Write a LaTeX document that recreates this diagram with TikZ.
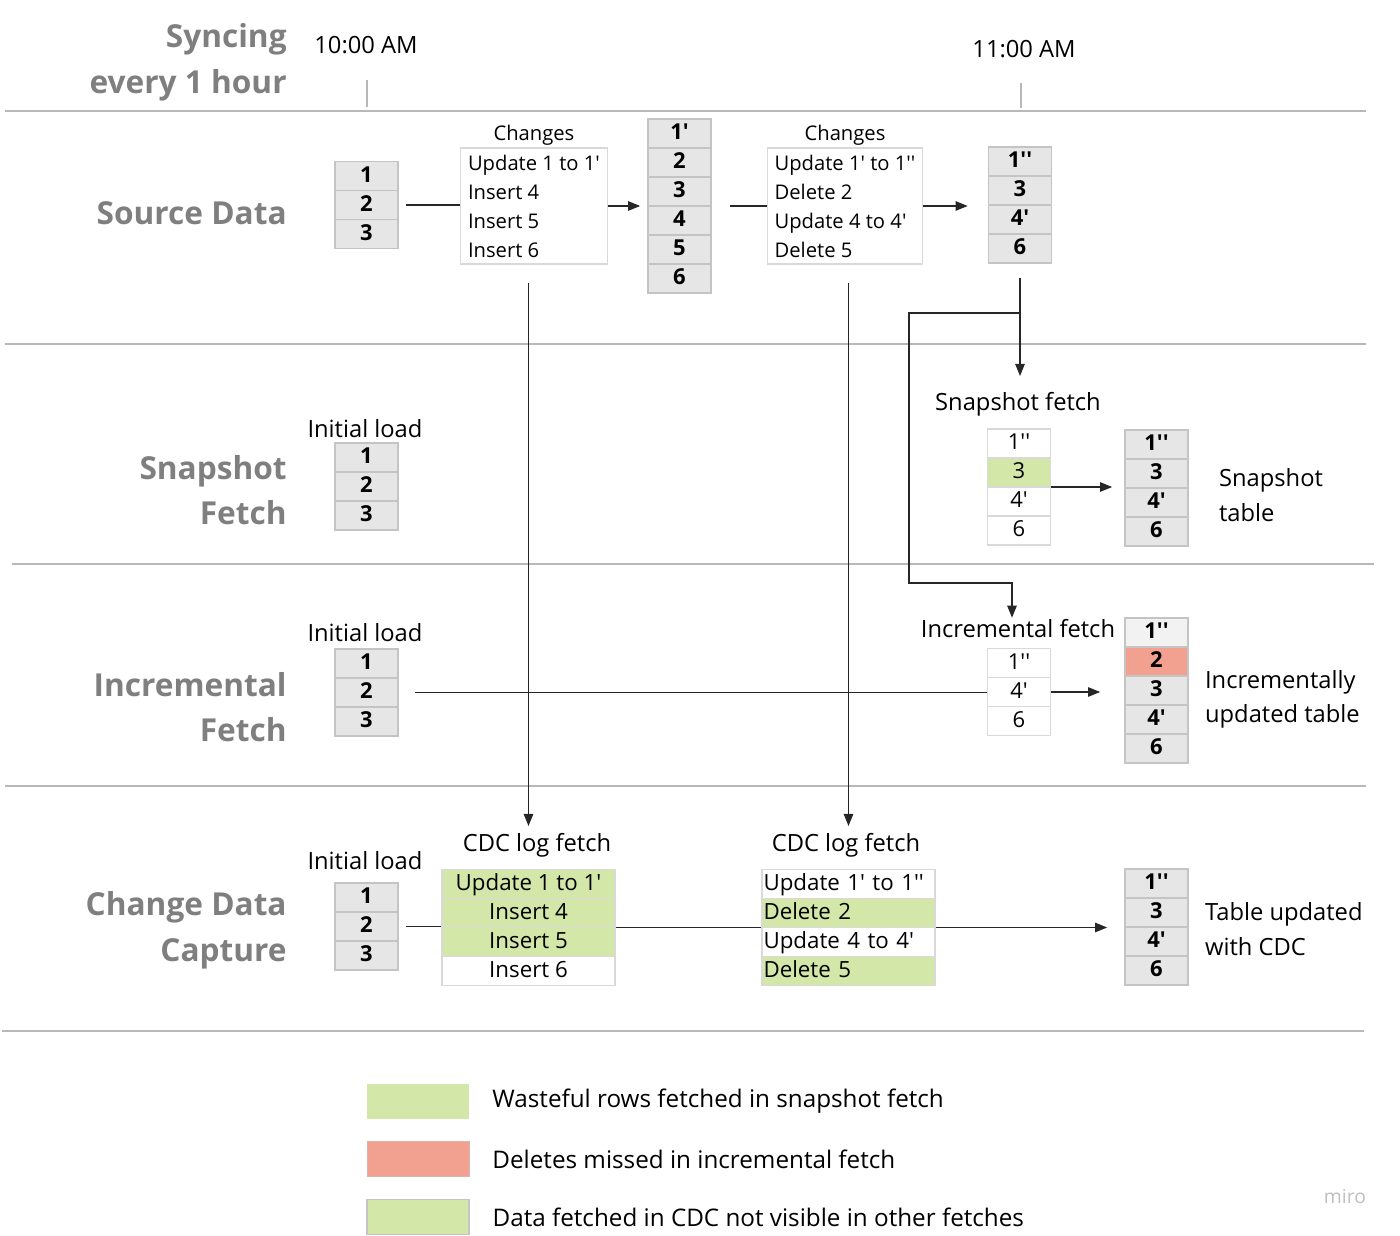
\documentclass[tikz,border=0pt]{standalone}
\usepackage{fontspec}
\setmainfont{Open Sans}[Ligatures=TeXOff]
\usepackage{tikz}
\usetikzlibrary{arrows.meta, positioning, matrix}

\definecolor{grn}{HTML}{D3E7A8}
\definecolor{redc}{HTML}{F2A191}
\definecolor{cellfill}{HTML}{E6E6E6}
\definecolor{cellline}{HTML}{C4C4C4}
\definecolor{wline}{HTML}{D9D9D9}
\definecolor{headgray}{HTML}{7F7F7F}
\definecolor{sepgray}{HTML}{B8B8B8}

\begin{document}
\begin{tikzpicture}[x=0.02cm, y=-0.02cm,
  head/.style={anchor=east, align=right, text=headgray, inner sep=0pt,
               font=\bfseries\fontsize{18}{26}\selectfont},
  lbl/.style={font=\fontsize{13.5}{19.5}\selectfont, inner sep=1pt},
  cell/.style={draw=cellline, fill=cellfill, line width=0.6pt, minimum width=1.26cm,
               minimum height=0.58cm, inner sep=0pt, text height=0.92em, text depth=0.2em,
               font=\bfseries\fontsize{12.5}{14}\selectfont},
  wcell/.style={fill=white, draw=wline, font=\fontsize{12.5}{14}\selectfont},
  tbl/.style={matrix of nodes, inner sep=0pt, row sep=-0.6pt, nodes={cell}},
  wtbl/.style={tbl, nodes={wcell}},
  logbox/.style={matrix of nodes, inner sep=0pt, row sep=-0.6pt,
               nodes={draw=wline, fill=white, line width=0.6pt, minimum width=3.46cm,
                      minimum height=0.58cm, inner sep=0pt, text height=0.92em, text depth=0.2em,
                      font=\fontsize{12.7}{14}\selectfont}},
  chg/.style={draw=wline, line width=0.6pt, align=left, anchor=west, inner xsep=0.15cm,
              minimum height=2.32cm, font=\fontsize{11.5}{16.5}\selectfont},
  lgbox/.style={minimum width=2.04cm, minimum height=0.7cm, inner sep=0pt},
  lgtext/.style={lbl, font=\fontsize{13.8}{16}\selectfont},
  sep/.style={draw=sepgray, line width=1pt},
  con/.style={draw=black!85, line width=0.6pt},
  arr/.style={con, -{Triangle[length=0.24cm, width=0.19cm]}}]
  \useasboundingbox (0,0) rectangle (1400,1236);

  % header and row separators
  \node[head] (sync) at (287,62) {Syncing\\every 1 hour};
  \node[lbl] (t10) at (366,45) {10:00 AM};
  \node[lbl] (t11) at (1024,49) {11:00 AM};
  \draw[sep, line width=0.6pt] (367,80) -- (367,107);
  \draw[sep, line width=0.6pt] (1021,83) -- (1021,108);
  \draw[sep] (5,111) -- (1366,111);
  \draw[sep] (5,344) -- (1366,344);
  \draw[sep] (12,564) -- (1374,564);
  \draw[sep] (5,786) -- (1366,786);
  \draw[sep] (2,1031) -- (1364,1031);

  % source data
  \node[head] (hsrc) at (287,213) {Source Data};
  \matrix (tA) [tbl] at (366.5,205) {1\\2\\3\\};
  \node[chg] (chg1) at (460,206) {Update 1 to 1'\\Insert 4\\Insert 5\\Insert 6};
  \node[lbl, font=\fontsize{11.5}{14}\selectfont, above=0pt of chg1] {Changes};
  \matrix (tB) [tbl] at (679.5,206) {1'\\2\\3\\4\\5\\6\\};
  \node[chg, inner xsep=0.08cm, minimum width=3.1cm] (chg2) at (767,206) {Update 1' to 1''\\Delete 2\\Update 4 to 4'\\Delete 5};
  \node[lbl, font=\fontsize{11.5}{14}\selectfont, above=0pt of chg2] {Changes};
  \matrix (tC) [tbl] at (1020,205) {1''\\3\\4'\\6\\};
  \draw[con, shorten <=0.14cm] (tA.east) -- (tA.east -| chg1.west);
  \draw[arr, shorten >=0.14cm] (chg1.east) -- (chg1.east -| tB.west);
  \draw[con, shorten <=0.36cm] (tB.east) -- (tB.east -| chg2.west);
  \draw[arr, shorten >=0.4cm] (chg2.east) -- (chg2.east -| tC.west);

  % snapshot fetch
  \node[head] (hsnap) at (287,490) {Snapshot\\Fetch};
  \node[lbl] (il1) at (365,429) {Initial load};
  \matrix (snA) [tbl] at (366.5,486.5) {1\\2\\3\\};
  \node[lbl] (sflbl) at (1018,404) {Snapshot fetch};
  \matrix (sfT) [wtbl] at (1019,487) {1''\\|[fill=grn]| 3\\4'\\6\\};
  \matrix (snT) [tbl] at (1156.5,488) {1''\\3\\4'\\6\\};
  \node[lbl, anchor=west, align=left] (snTl) at (1217,495) {Snapshot\\table};
  \draw[arr, shorten >=0.24cm] (sfT.east) -- (sfT.east -| snT.west);

  % incremental fetch
  \node[head] (hinc) at (287,707) {Incremental\\Fetch};
  \node[lbl] (il2) at (365,633) {Initial load};
  \matrix (inA) [tbl] at (366.5,692.5) {1\\2\\3\\};
  \node[lbl] (iflbl) at (1018,629) {Incremental fetch};
  \matrix (ifT) [wtbl] at (1019,692) {1''\\4'\\6\\};
  \matrix (inT) [tbl] at (1156.5,690.5) {|[fill=black!5]| 1''\\|[fill=redc]| 2\\3\\4'\\6\\};
  \node[lbl, anchor=west, align=left] (inTl) at (1203,699) {Incrementally\\updated table};
  \draw[con, shorten <=0.32cm] (inA.east) -- (inA.east -| ifT.west);
  \draw[arr, shorten >=0.48cm] (ifT.east) -- (ifT.east -| inT.west);

  % change data capture
  \node[head] (hcdc) at (287,930) {Change Data\\Capture};
  \node[lbl] (il3) at (365,861) {Initial load};
  \matrix (cdA) [tbl] at (366.5,926.5) {1\\2\\3\\};
  \node[lbl] (cl1) at (537,845) {CDC log fetch};
  \matrix (cdc1) [logbox] at (528.5,927.5)
    {|[fill=grn]| Update 1 to 1'\\|[fill=grn]| Insert 4\\|[fill=grn]| Insert 5\\Insert 6\\};
  \node[lbl] (cl2) at (846,845) {CDC log fetch};
  \matrix (cdc2) [logbox, nodes={text width=3.4cm, align=left, inner xsep=0.03cm}] at (848.5,927.5)
    {Update 1' to 1''\\|[fill=grn]| Delete 2\\Update 4 to 4'\\|[fill=grn]| Delete 5\\};
  \matrix (cdT) [tbl] at (1156.5,927) {1''\\3\\4'\\6\\};
  \node[lbl, anchor=west, align=left] (cdTl) at (1203,929) {Table updated\\with CDC};
  \draw[con, shorten <=0.14cm] (cdA.east) -- (cdA.east -| cdc1.west);
  \draw[con] (cdc1.east) -- (cdc1.east -| cdc2.west);
  \draw[arr, shorten >=0.34cm] (cdc2.east) -- (cdc2.east -| cdT.west);

  % fetches at 11:00
  \draw[arr, shorten <=0.36cm, shorten >=0.1cm] (chg1.south -| cdc1.north) -- (cl1.north -| cdc1.north);
  \draw[arr, shorten <=0.36cm, shorten >=0.1cm] (chg2.south -| cdc2.north) -- (cl2.north -| cdc2.north);
  \draw[arr, shorten <=0.28cm, shorten >=0.28cm] (tC.south) -- (tC.south |- sflbl.north);
  \coordinate (br) at (1020,313);
  \draw[arr] (br) -- ++(-111,0) -- ++(0,270) -| ([xshift=-0.12cm]iflbl.north);

  % legend
  \node[lgbox, fill=grn] (lg1) at (418,1101) {};
  \node[lgtext, anchor=west, right=0.42cm of lg1] {Wasteful rows fetched in snapshot fetch};
  \node[lgbox, fill=redc, draw=redc!80!black!60, line width=0.4pt] (lg2) at (418,1159) {};
  \node[lgtext, anchor=west, right=0.42cm of lg2] {Deletes missed in incremental fetch};
  \node[lgbox, fill=grn, draw=cellline, line width=0.6pt] (lg3) at (418,1217) {};
  \node[lgtext, anchor=west, right=0.42cm of lg3] {Data fetched in CDC not visible in other fetches};
  \node[text=black!25, font=\fontsize{11}{12}\selectfont] (miro) at (1345,1196) {miro};
\end{tikzpicture}
\end{document}
